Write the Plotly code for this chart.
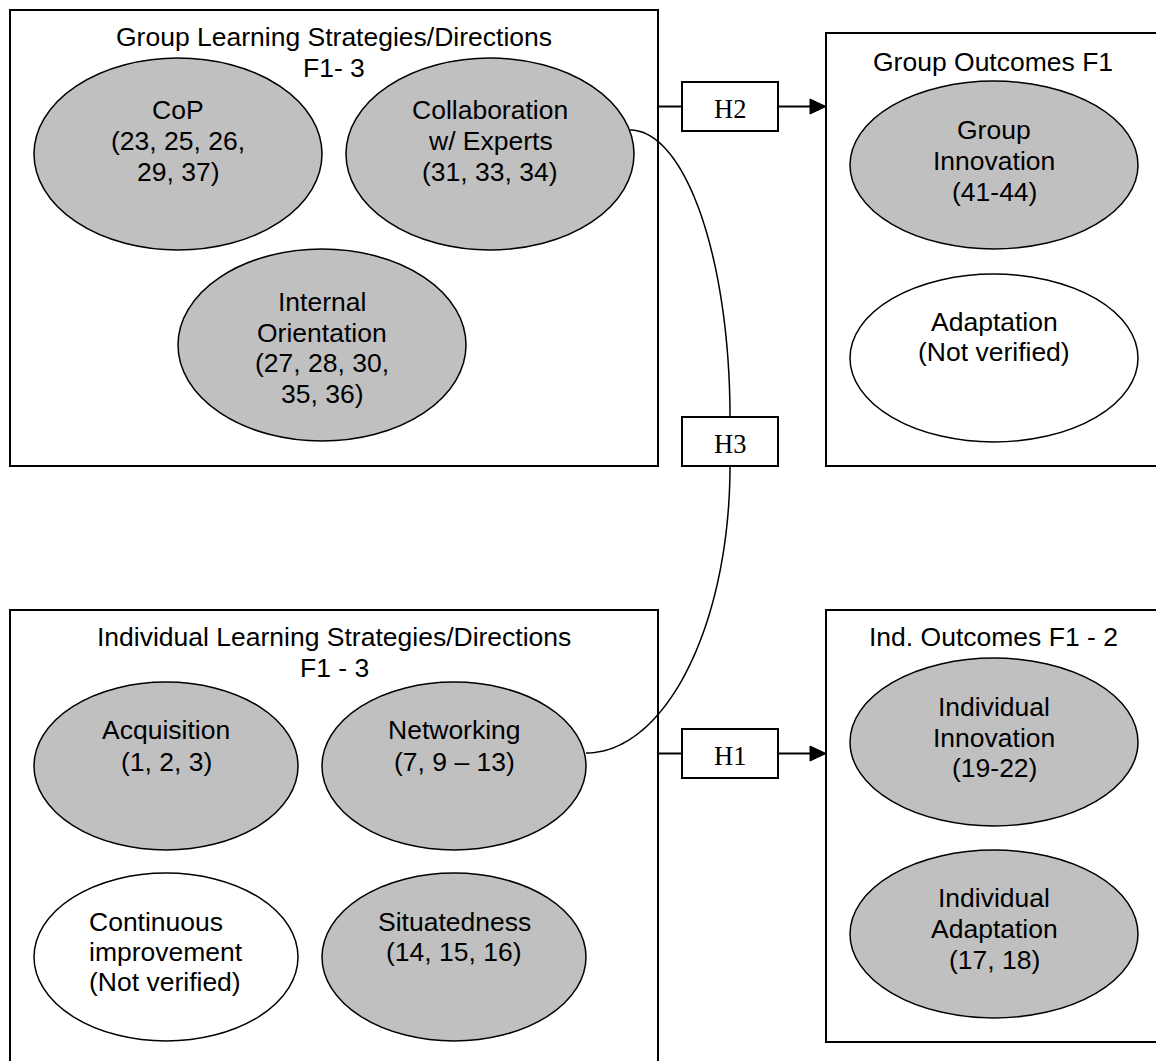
import numpy as np
import plotly.graph_objects as go

# ---------------- content (text) ----------------
group_panel_title = ["Group Learning Strategies/Directions", "F1- 3"]
ind_panel_title = ["Individual Learning Strategies/Directions", "F1 - 3"]
group_outcome_title = ["Group Outcomes F1"]
ind_outcome_title = ["Ind. Outcomes F1 - 2"]

node_names = ["CoP", "Collaboration", "Internal Orientation", "Group Innovation",
              "Adaptation", "Acquisition", "Networking", "Continuous improvement",
              "Situatedness", "Individual Innovation", "Individual Adaptation"]
node_lines = [
    ["CoP", "(23, 25, 26,", "29, 37)"],
    ["Collaboration", "w/ Experts", "(31, 33, 34)"],
    ["Internal", "Orientation", "(27, 28, 30,", "35, 36)"],
    ["Group", "Innovation", "(41-44)"],
    ["Adaptation", "(Not verified)"],
    ["Acquisition", "(1, 2, 3)"],
    ["Networking", "(7, 9 \u2013 13)"],
    ["Continuous", "improvement", "(Not verified)"],
    ["Situatedness", "(14, 15, 16)"],
    ["Individual", "Innovation", "(19-22)"],
    ["Individual", "Adaptation", "(17, 18)"],
]
node_verified = [True, True, True, True, False, True, True, False, True, True, True]
hypotheses = ["H1", "H2", "H3"]

# ---------------- geometry (pixel layout) ----------------
W, H = 1156, 1061
node_cx = [178, 490, 322, 994, 994, 166, 454, 166, 454, 994, 994]
node_cy = [154, 154, 345, 165, 358, 766, 766, 957, 957, 742, 934]
node_rx = [144, 144, 144, 144, 144, 132, 132, 132, 132, 144, 144]
node_ry = [96, 96, 96, 84, 84, 84, 84, 84, 84, 84, 84]
text_y0 = [110, 110, 302, 130, 322, 730, 730, 922, 922, 707, 898]
text_dy = [31, 31, 30.5, 31, 30, 32, 32, 30, 30, 30.5, 31]
text_left = [None, None, None, None, None, None, None, 87, None, None, None]

panels = [(10, 10, 658, 466), (826, 33, 1170, 466), (10, 610, 658, 1075), (826, 610, 1170, 1042)]
panel_titles = [group_panel_title, group_outcome_title, ind_panel_title, ind_outcome_title]
panel_title_x = [334, 993, 334, 993]
panel_title_y0 = [37, 62, 637, 637]
panel_title_dy = 31

hyp_boxes = [(682, 729, 778, 778), (682, 82, 778, 131), (682, 417, 778, 466)]

FONT = "Liberation Sans, Arial, sans-serif"
SERIF = "Liberation Serif, Times New Roman, serif"
FS = 26.5
FILL_ON = "#c0c0c0"
FILL_OFF = "#ffffff"

fig = go.Figure()
shapes = []
annotations = []

def ann(x, y, text, size=FS, font=FONT, xanchor="center"):
    annotations.append(dict(x=x, y=y, xref="x", yref="y", text=text, showarrow=False,
                            xanchor=xanchor, yanchor="middle",
                            font=dict(family=font, size=size, color="#000000")))

# panels
for (x0, y0, x1, y1), lines, tx, ty in zip(panels, panel_titles, panel_title_x, panel_title_y0):
    shapes.append(dict(type="rect", x0=x0, y0=y0, x1=x1, y1=y1, xref="x", yref="y",
                       line=dict(color="#000000", width=2), fillcolor="rgba(0,0,0,0)", layer="below"))
    for i, t in enumerate(lines):
        ann(tx, ty + i * panel_title_dy, t)

# nodes
for i in range(len(node_names)):
    cx, cy, rx, ry = node_cx[i], node_cy[i], node_rx[i], node_ry[i]
    shapes.append(dict(type="circle", x0=cx - rx, x1=cx + rx, y0=cy - ry, y1=cy + ry,
                       xref="x", yref="y", line=dict(color="#000000", width=1.5),
                       fillcolor=FILL_ON if node_verified[i] else FILL_OFF, layer="below"))
    for j, t in enumerate(node_lines[i]):
        y = text_y0[i] + j * text_dy[i]
        if text_left[i] is not None:
            ann(text_left[i], y, t, xanchor="left")
        else:
            ann(cx, y, t)

# hypothesis boxes + connectors
for (x0, y0, x1, y1), lab in zip(hyp_boxes, hypotheses):
    shapes.append(dict(type="rect", x0=x0, y0=y0, x1=x1, y1=y1, xref="x", yref="y",
                       line=dict(color="#000000", width=2), fillcolor="#ffffff", layer="above"))
    ann((x0 + x1) / 2, (y0 + y1) / 2 + 2, lab, size=26.5, font=SERIF)

for k in (0, 1):  # H1 and H2 arrows
    x0, y0, x1, y1 = hyp_boxes[k]
    ym = (y0 + y1) / 2
    shapes.append(dict(type="line", x0=658, x1=x0, y0=ym, y1=ym, xref="x", yref="y",
                       line=dict(color="#000000", width=2)))
    shapes.append(dict(type="line", x0=x1, x1=812, y0=ym, y1=ym, xref="x", yref="y",
                       line=dict(color="#000000", width=2)))
    shapes.append(dict(type="path", path=f"M 810 {ym-7.5} L 826 {ym} L 810 {ym+7.5} Z",
                       xref="x", yref="y", fillcolor="#000000", line=dict(color="#000000", width=1)))

# H3 curved connector (two quarter-ellipse arcs)
def arc(cx, cy, rx, ry, t0, t1, n=80):
    t = np.linspace(t0, t1, n)
    xs = cx + rx * np.cos(t)
    ys = cy + ry * np.sin(t)
    return "M " + " L ".join(f"{a:.2f},{b:.2f}" for a, b in zip(xs, ys))

shapes.append(dict(type="path", path=arc(630, 417, 100, 287, -np.pi / 2, 0), xref="x", yref="y",
                   line=dict(color="#000000", width=1.5), layer="above"))
shapes.append(dict(type="path", path=arc(586, 466, 144, 287, 0, np.pi / 2), xref="x", yref="y",
                   line=dict(color="#000000", width=1.5), layer="above"))

fig.update_layout(
    width=W, height=H, margin=dict(l=0, r=0, t=0, b=0),
    paper_bgcolor="#ffffff", plot_bgcolor="#ffffff",
    xaxis=dict(range=[0, W], visible=False, showgrid=False, zeroline=False, fixedrange=True),
    yaxis=dict(range=[H, 0], visible=False, showgrid=False, zeroline=False, fixedrange=True),
    shapes=shapes, annotations=annotations, showlegend=False,
)

fig.write_html("out.html", post_script="document.body.style.margin='0';document.body.style.overflow='hidden';",
               config={"displayModeBar": False})
